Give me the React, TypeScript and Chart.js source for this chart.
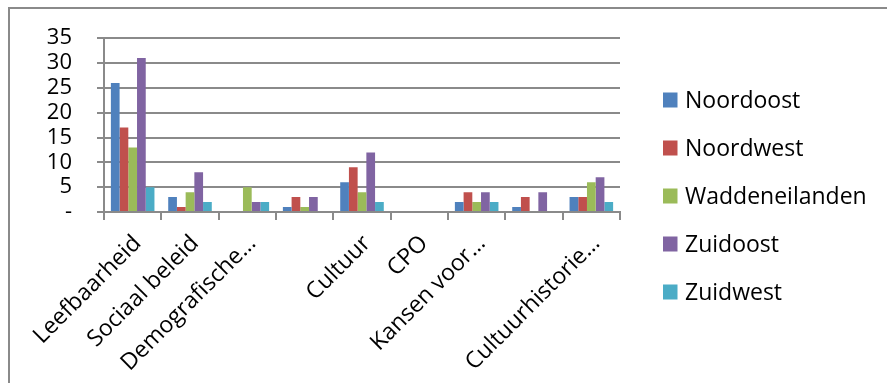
import React, { useEffect, useRef } from "react";
import { Chart, registerables } from "chart.js";

Chart.register(...registerables);

const categories = [
  "Leefbaarheid",
  "Sociaal beleid",
  "Demografische…",
  "",
  "Cultuur",
  "CPO",
  "Kansen voor…",
  "",
  "Cultuurhistorie…",
];

const seriesNames = ["Noordoost", "Noordwest", "Waddeneilanden", "Zuidoost", "Zuidwest"];
const seriesColors = ["#4F81BD", "#C0504D", "#9BBB59", "#8064A2", "#4BACC6"];

const noordoost = [26, 3, 0, 1, 6, 0, 2, 1, 3];
const noordwest = [17, 1, 0, 3, 9, 0, 4, 3, 3];
const waddeneilanden = [13, 4, 5, 1, 4, 0, 2, 0, 6];
const zuidoost = [31, 8, 2, 3, 12, 0, 4, 4, 7];
const zuidwest = [5, 2, 2, 0, 2, 0, 2, 0, 2];

const seriesValues = [noordoost, noordwest, waddeneilanden, zuidoost, zuidwest];

const yTicks = [0, 5, 10, 15, 20, 25, 30, 35];

const FONT = "'Open Sans', 'Noto Sans', sans-serif";
const GRID = "#8a8a8a";

export default function App() {
  const ref = useRef<HTMLCanvasElement | null>(null);

  useEffect(() => {
    if (!ref.current) return;

    const framePlugin = {
      id: "frame",
      beforeDraw(chart: any) {
        const ctx = chart.ctx;
        ctx.save();
        ctx.fillStyle = "#ffffff";
        ctx.fillRect(0, 0, chart.width, chart.height);
        ctx.strokeStyle = "#8a8a8a";
        ctx.lineWidth = 2;
        ctx.strokeRect(9, 8, 1200, 1200);
        ctx.restore();
      },
    };

    const legendPlugin = {
      id: "customLegend",
      afterDraw(chart: any) {
        const ctx = chart.ctx;
        ctx.save();
        ctx.font = `23px ${FONT}`;
        ctx.textBaseline = "middle";
        ctx.textAlign = "left";
        chart.data.datasets.forEach((ds: any, i: number) => {
          const cy = 100 + i * 48;
          ctx.fillStyle = ds.backgroundColor;
          ctx.fillRect(663, cy - 7.5, 14.5, 15);
          ctx.fillStyle = "#000000";
          ctx.fillText(ds.label, 685, cy + 1);
        });
        ctx.restore();
      },
    };

    const chart = new Chart(ref.current, {
      type: "bar",
      data: {
        labels: categories,
        datasets: seriesNames.map((name, i) => ({
          label: name,
          data: seriesValues[i],
          backgroundColor: seriesColors[i],
          borderWidth: 0,
          barPercentage: 1.0,
          categoryPercentage: 0.76,
        })),
      },
      options: {
        animation: false,
        responsive: false,
        maintainAspectRatio: false,
        layout: { padding: { left: 0, right: 267, top: 24, bottom: 0 } },
        plugins: {
          legend: { display: false },
          tooltip: { enabled: false },
          title: { display: false },
        },
        scales: {
          x: {
            offset: true,
            grid: {
              offset: true,
              drawOnChartArea: false,
              drawTicks: true,
              tickLength: 8,
              color: GRID,
              lineWidth: 2,
            },
            border: { display: true, color: GRID, width: 2 },
            ticks: {
              autoSkip: false,
              minRotation: 45,
              maxRotation: 45,
              color: "#000000",
              font: { family: FONT, size: 23 },
              padding: 10,
              labelOffset: 5,
            },
            afterFit(scale: any) {
              scale.height = 171;
            },
          },
          y: {
            min: 0,
            max: 35,
            afterBuildTicks(scale: any) {
              scale.ticks = yTicks.map((v) => ({ value: v }));
            },
            grid: {
              color: GRID,
              lineWidth: 2,
              tickLength: 7,
              drawTicks: true,
            },
            border: { display: true, color: GRID, width: 2 },
            ticks: {
              autoSkip: false,
              color: "#000000",
              font: { family: FONT, size: 22 },
              padding: 25,
              callback: (v: any) => (Number(v) === 0 ? "-" : String(v)),
            },
            afterFit(scale: any) {
              scale.width = 104;
            },
          },
        },
      },
      plugins: [framePlugin, legendPlugin],
    });

    return () => chart.destroy();
  }, []);

  return (
    <div style={{ position: "fixed", left: 0, top: 0, width: 887, height: 383 }}>
      <canvas ref={ref} width={887} height={383} style={{ width: 887, height: 383 }} />
    </div>
  );
}
